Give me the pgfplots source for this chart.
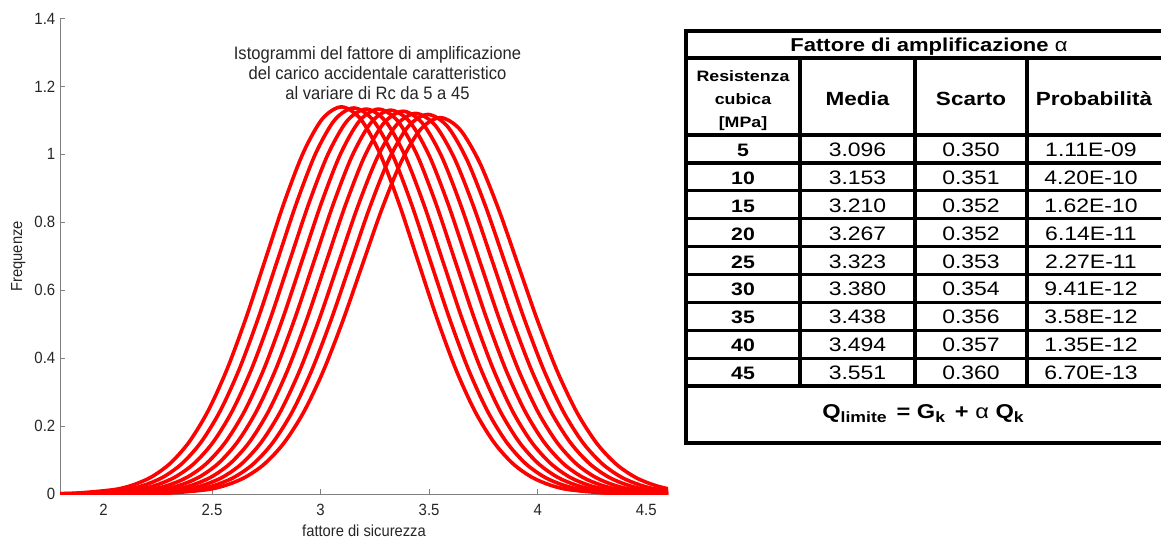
\documentclass[border=0pt]{standalone}
\usepackage{fontspec}
\setmainfont{Liberation Sans}
\newfontfamily\plotfont[FakeStretch=0.92]{Liberation Sans}
\newfontfamily\tabfont[FakeStretch=1.18]{Liberation Sans}
\usepackage{pgfplots}
\pgfplotsset{compat=1.18}
\pgfplotsset{curva/.style={red, solid, line width=2.7pt, smooth, mark=none, line join=round}}

\begin{document}
\begin{tikzpicture}
\begin{axis}[
  at={(45pt,-370.5pt)}, anchor=south west,
  scale only axis, width=456pt, height=356.6pt,
  xmin=1.8, xmax=4.6, ymin=0, ymax=1.4,
  axis x line*=bottom, axis y line*=left,
  axis line style={black!50, line width=0.7pt},
  tick align=inside, major tick length=4pt,
  tick style={black!50, line width=0.7pt},
  xtick={2,2.5,3,3.5,4,4.5},
  ytick={0,0.2,0.4,0.6,0.8,1,1.2,1.4},
  /pgf/number format/assume math mode=true,
  ticklabel style={font=\plotfont\fontsize{12.2}{14}\selectfont, text=black!85},
  xticklabel style={yshift=-4pt},
  xlabel={fattore di sicurezza}, ylabel={Frequenze},
  label style={font=\plotfont\fontsize{12}{14}\selectfont, text=black!85},
  clip=true
]
% Rc = 5 : media 3.096, scarto 0.350
\addplot[curva] coordinates {(1.346,0) (1.521,0.00005) (1.696,0.00038) (1.871,0.00249) (2.046,0.01266) (2.1335,0.02598) (2.221,0.05008) (2.3085,0.09069) (2.396,0.15426) (2.4835,0.24651) (2.571,0.37005) (2.6585,0.52185) (2.746,0.69135) (2.8335,0.86039) (2.921,1.00590) (3.0085,1.10477) (3.096,1.13983) (3.1835,1.10477) (3.271,1.00590) (3.3585,0.86039) (3.446,0.69135) (3.5335,0.52185) (3.621,0.37005) (3.7085,0.24651) (3.796,0.15426) (3.8835,0.09069) (3.971,0.05008) (4.0585,0.02598) (4.146,0.01266) (4.321,0.00249) (4.496,0.00038) (4.671,0.00005) (4.846,0)};
% Rc = 10 : 3.153, 0.351
\addplot[curva] coordinates {(1.398,0) (1.5735,0.00005) (1.749,0.00038) (1.9245,0.00249) (2.100,0.01263) (2.1878,0.02591) (2.2755,0.04994) (2.3633,0.09043) (2.451,0.15382) (2.5388,0.24580) (2.6265,0.36900) (2.7143,0.52037) (2.802,0.68938) (2.8898,0.85794) (2.9775,1.00303) (3.0653,1.10162) (3.153,1.13659) (3.2408,1.10162) (3.3285,1.00303) (3.4163,0.85794) (3.504,0.68938) (3.5918,0.52037) (3.6795,0.36900) (3.7673,0.24580) (3.855,0.15382) (3.9428,0.09043) (4.0305,0.04994) (4.1183,0.02591) (4.206,0.01263) (4.3815,0.00249) (4.557,0.00038) (4.7325,0.00005) (4.908,0)};
% Rc = 15 : 3.210, 0.352
\addplot[curva] coordinates {(1.450,0) (1.626,0.00005) (1.802,0.00038) (1.978,0.00248) (2.154,0.01259) (2.242,0.02583) (2.330,0.04980) (2.418,0.09017) (2.506,0.15338) (2.594,0.24511) (2.682,0.36795) (2.770,0.51889) (2.858,0.68742) (2.946,0.85550) (3.034,1.00019) (3.122,1.09849) (3.210,1.13336) (3.298,1.09849) (3.386,1.00019) (3.474,0.85550) (3.562,0.68742) (3.650,0.51889) (3.738,0.36795) (3.826,0.24511) (3.914,0.15338) (4.002,0.09017) (4.090,0.04980) (4.178,0.02583) (4.266,0.01259) (4.442,0.00248) (4.618,0.00038) (4.794,0.00005) (4.970,0)};
% Rc = 20 : 3.267, 0.352
\addplot[curva] coordinates {(1.507,0) (1.683,0.00005) (1.859,0.00038) (2.035,0.00248) (2.211,0.01259) (2.299,0.02583) (2.387,0.04980) (2.475,0.09017) (2.563,0.15338) (2.651,0.24511) (2.739,0.36795) (2.827,0.51889) (2.915,0.68742) (3.003,0.85550) (3.091,1.00019) (3.179,1.09849) (3.267,1.13336) (3.355,1.09849) (3.443,1.00019) (3.531,0.85550) (3.619,0.68742) (3.707,0.51889) (3.795,0.36795) (3.883,0.24511) (3.971,0.15338) (4.059,0.09017) (4.147,0.04980) (4.235,0.02583) (4.323,0.01259) (4.499,0.00248) (4.675,0.00038) (4.851,0.00005) (5.027,0)};
% Rc = 25 : 3.323, 0.353
\addplot[curva] coordinates {(1.558,0) (1.7345,0.00005) (1.911,0.00038) (2.0875,0.00247) (2.264,0.01255) (2.3523,0.02576) (2.4405,0.04966) (2.5288,0.08992) (2.617,0.15295) (2.7053,0.24441) (2.7935,0.36691) (2.8818,0.51742) (2.970,0.68547) (3.0583,0.85308) (3.1465,0.99735) (3.2348,1.09538) (3.323,1.13015) (3.4113,1.09538) (3.4995,0.99735) (3.5878,0.85308) (3.676,0.68547) (3.7643,0.51742) (3.8525,0.36691) (3.9408,0.24441) (4.029,0.15295) (4.1173,0.08992) (4.2055,0.04966) (4.2938,0.02576) (4.382,0.01255) (4.5585,0.00247) (4.735,0.00038) (4.9115,0.00005) (5.088,0)};
% Rc = 30 : 3.380, 0.354
\addplot[curva] coordinates {(1.610,0) (1.787,0.00005) (1.964,0.00038) (2.141,0.00247) (2.318,0.01252) (2.4065,0.02569) (2.495,0.04951) (2.5835,0.08966) (2.672,0.15252) (2.7605,0.24372) (2.849,0.36587) (2.9375,0.51596) (3.026,0.68353) (3.1145,0.85067) (3.203,0.99453) (3.2915,1.09228) (3.380,1.12695) (3.4685,1.09228) (3.557,0.99453) (3.6455,0.85067) (3.734,0.68353) (3.8225,0.51596) (3.911,0.36587) (3.9995,0.24372) (4.088,0.15252) (4.1765,0.08966) (4.265,0.04951) (4.3535,0.02569) (4.442,0.01252) (4.619,0.00247) (4.796,0.00038) (4.973,0.00005) (5.150,0)};
% Rc = 35 : 3.438, 0.356
\addplot[curva] coordinates {(1.658,0) (1.836,0.00005) (2.014,0.00038) (2.192,0.00245) (2.370,0.01245) (2.459,0.02555) (2.548,0.04924) (2.637,0.08916) (2.726,0.15166) (2.815,0.24235) (2.904,0.36381) (2.993,0.51306) (3.082,0.67969) (3.171,0.84589) (3.260,0.98895) (3.349,1.08615) (3.438,1.12062) (3.527,1.08615) (3.616,0.98895) (3.705,0.84589) (3.794,0.67969) (3.883,0.51306) (3.972,0.36381) (4.061,0.24235) (4.150,0.15166) (4.239,0.08916) (4.328,0.04924) (4.417,0.02555) (4.506,0.01245) (4.684,0.00245) (4.862,0.00038) (5.040,0.00005)};
% Rc = 40 : 3.494, 0.357
\addplot[curva] coordinates {(1.709,0) (1.8875,0.00005) (2.066,0.00037) (2.2445,0.00244) (2.423,0.01241) (2.5123,0.02547) (2.6015,0.04910) (2.6908,0.08891) (2.780,0.15124) (2.8693,0.24167) (2.9585,0.36280) (3.0478,0.51162) (3.137,0.67779) (3.2263,0.84352) (3.3155,0.98618) (3.4048,1.08310) (3.494,1.11749) (3.5833,1.08310) (3.6725,0.98618) (3.7618,0.84352) (3.851,0.67779) (3.9403,0.51162) (4.0295,0.36280) (4.1188,0.24167) (4.208,0.15124) (4.2973,0.08891) (4.3865,0.04910) (4.4758,0.02547) (4.565,0.01241) (4.7435,0.00244) (4.922,0.00037)};
% Rc = 45 : 3.551, 0.360
\addplot[curva] coordinates {(1.571,0) (1.751,0) (1.931,0.00005) (2.111,0.00037) (2.291,0.00242) (2.471,0.01231) (2.561,0.02526) (2.651,0.04869) (2.741,0.08817) (2.831,0.14998) (2.921,0.23966) (3.011,0.35977) (3.101,0.50736) (3.191,0.67214) (3.281,0.83649) (3.371,0.97796) (3.461,1.07408) (3.551,1.10817) (3.641,1.07408) (3.731,0.97796) (3.821,0.83649) (3.911,0.67214) (4.001,0.50736) (4.091,0.35977) (4.181,0.23966) (4.271,0.14998) (4.361,0.08817) (4.451,0.04869) (4.541,0.02526) (4.631,0.01231) (4.811,0.00242) (4.991,0.00037)};
\node[font=\plotfont\fontsize{13.5}{15}\selectfont, text=black!85, align=center]
  at (axis cs:3.262,1.239) {Istogrammi del fattore di amplificazione\\del carico accidentale caratteristico\\al variare di Rc da 5 a 45};
\end{axis}

\begin{scope}[x=0.75pt, y=-0.75pt]
  % table grid
  \draw[line width=2.5pt] (686,31) -- (1164,31);
  \draw[line width=2.8pt] (686,443) -- (1164,443);
  \draw[line width=2.5pt] (686,29.5) -- (686,444.5);
  \foreach \yy in {58,135,162.9,190.8,218.7,246.6,274.5,302.4,330.3,358.2,386.1}
    \draw[line width=2.5pt] (686,\yy) -- (1164,\yy);
  \foreach \xx in {800,915,1027}
    \draw[line width=2.5pt] (\xx,58) -- (\xx,386.1);
  % title row
  \node[anchor=base, inner sep=0pt, font=\tabfont\bfseries\fontsize{14}{16}\selectfont] at (929,52) {Fattore di amplificazione {\mdseries α}};
  % header
  \node[anchor=base, inner sep=0pt, font=\tabfont\bfseries\fontsize{11.3}{13}\selectfont] at (743,82) {Resistenza};
  \node[anchor=base, inner sep=0pt, font=\tabfont\bfseries\fontsize{11.3}{13}\selectfont] at (743,105) {cubica};
  \node[anchor=base, inner sep=0pt, font=\tabfont\bfseries\fontsize{11.3}{13}\selectfont] at (743,128) {[MPa]};
  \node[anchor=base, inner sep=0pt, font=\tabfont\bfseries\fontsize{14.3}{16}\selectfont] at (857.5,106) {Media};
  \node[anchor=base, inner sep=0pt, font=\tabfont\bfseries\fontsize{14.3}{16}\selectfont] at (971,106) {Scarto};
  \node[anchor=base, inner sep=0pt, font=\tabfont\bfseries\fontsize{14.3}{16}\selectfont] at (1094,106) {Probabilità};
  % rows
  \foreach \rc/\me/\sc/\pr [count=\i from 0] in {5/3.096/0.350/1.11E-09, 10/3.153/0.351/4.20E-10, 15/3.210/0.352/1.62E-10, 20/3.267/0.352/6.14E-11, 25/3.323/0.353/2.27E-11, 30/3.380/0.354/9.41E-12, 35/3.438/0.356/3.58E-12, 40/3.494/0.357/1.35E-12, 45/3.551/0.360/6.70E-13} {
    \pgfmathsetmacro{\yb}{135+27.9*\i+13.95+7.5}
    \node[anchor=base, inner sep=0pt, font=\tabfont\bfseries\fontsize{13.5}{15}\selectfont] at (743,\yb) {\rc};
    \node[anchor=base, inner sep=0pt, font=\tabfont\fontsize{14.6}{16}\selectfont] at (857.5,\yb) {\me};
    \node[anchor=base, inner sep=0pt, font=\tabfont\fontsize{14.6}{16}\selectfont] at (971,\yb) {\sc};
    \node[anchor=base, inner sep=0pt, font=\tabfont\fontsize{14.6}{16}\selectfont] at (1091,\yb) {\pr};
  }
  % formula
  \node[anchor=base, inner sep=0pt, font=\tabfont\bfseries\fontsize{15}{17}\selectfont] at (923,419)
    {Q\raisebox{-0.3ex}{\fontsize{11.2}{12}\selectfont limite}\, = G\raisebox{-0.3ex}{\fontsize{11.2}{12}\selectfont k}\, + {\mdseries α} Q\raisebox{-0.3ex}{\fontsize{11.2}{12}\selectfont k}};
  \pgfresetboundingbox
  \path (0,0) rectangle (1161,538);
\end{scope}
\end{tikzpicture}
\end{document}
